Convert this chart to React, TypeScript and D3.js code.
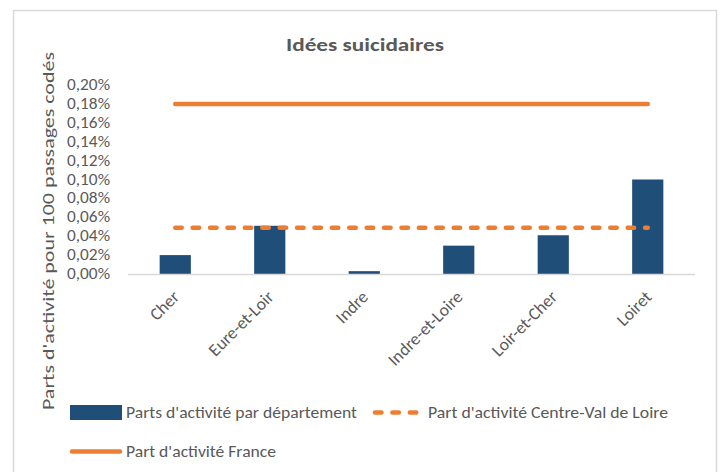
import React from "react";
import * as d3 from "d3";

const categories = ["Cher", "Eure-et-Loir", "Indre", "Indre-et-Loire", "Loir-et-Cher", "Loiret"];
const deptValues = [0.02, 0.051, 0.003, 0.03, 0.041, 0.1];
const regionValues = [0.049, 0.049, 0.049, 0.049, 0.049, 0.049];
const franceValues = [0.18, 0.18, 0.18, 0.18, 0.18, 0.18];
const yTicks = [0, 0.02, 0.04, 0.06, 0.08, 0.1, 0.12, 0.14, 0.16, 0.18, 0.2];
const title = "Idées suicidaires";
const yTitle = "Parts d'activité pour 100 passages codés";
const legendLabels = [
  "Parts d'activité par département",
  "Part d'activité Centre-Val de Loire",
  "Part d'activité France",
];

const W = 721;
const H = 472;
const BLUE = "#1F4E79";
const ORANGE = "#ED7D31";
const GRAY = "#595959";
const FONT = "Carlito, Calibri, 'Liberation Sans Narrow', 'Open Sans', sans-serif";

export default function App() {
  const x = d3.scaleBand<string>().domain(categories).range([128, 695]).paddingInner(0.67).paddingOuter(0.335);
  const xc = d3.scalePoint<string>().domain(categories).range([128, 695]).padding(0.5);
  const y = d3.scaleLinear().domain([0, 0.2]).range([274, 85]);
  const line = d3
    .line<number>()
    .x((_, i) => xc(categories[i]) as number)
    .y((d) => y(d));
  const fmt = (v: number) => v.toFixed(2).replace(".", ",") + "%";

  return (
    <svg width={W} height={H} style={{ position: "absolute", left: 0, top: 0, background: "#fff" }}>
      <rect x={13.5} y={10.5} width={703} height={470} fill="#fff" stroke="#D9D9D9" strokeWidth={1.5} />
      <text x={365} y={51} textAnchor="middle" fontFamily={FONT} fontWeight="bold" fontSize={19} fill={GRAY}
        textLength={158} lengthAdjust="spacingAndGlyphs">
        {title}
      </text>
      {yTicks.map((t) => (
        <text key={t} x={110} y={y(t) + 5} textAnchor="end" fontFamily={FONT} fontSize={15.5} fill={GRAY}
          textLength={43} lengthAdjust="spacingAndGlyphs">
          {fmt(t)}
        </text>
      ))}
      <text transform={`translate(54, 231) rotate(-90)`} textAnchor="middle" fontFamily={FONT} fontSize={17} fill={GRAY}
        textLength={358} lengthAdjust="spacingAndGlyphs">
        {yTitle}
      </text>
      {categories.map((c, i) => (
        <rect key={c} x={x(c)} y={y(deptValues[i])} width={x.bandwidth()} height={y(0) - y(deptValues[i])} fill={BLUE} />
      ))}
      <line x1={128} x2={695} y1={274.5} y2={274.5} stroke="#D9D9D9" strokeWidth={1.5} />
      <path d={line(franceValues) || ""} fill="none" stroke={ORANGE} strokeWidth={4.5} strokeLinecap="round" />
      <path d={line(regionValues) || ""} fill="none" stroke={ORANGE} strokeWidth={4.5} strokeLinecap="round"
        strokeDasharray="6.5 10.9" />
      {categories.map((c) => {
        const cx = (xc(c) as number) + 5;
        return (
          <text key={c} transform={`translate(${cx}, 298) rotate(-45)`} textAnchor="end" fontFamily={FONT} fontSize={17.5} fill={GRAY}>
            {c}
          </text>
        );
      })}
      <rect x={70} y={405} width={52} height={15} fill={BLUE} />
      <text x={126} y={418} fontFamily={FONT} fontSize={15.5} fill={GRAY} textLength={231} lengthAdjust="spacingAndGlyphs">
        {legendLabels[0]}
      </text>
      <line x1={375} x2={418} y1={412.5} y2={412.5} stroke={ORANGE} strokeWidth={4.5} strokeLinecap="round" strokeDasharray="6.5 10.9" />
      <text x={428} y={418} fontFamily={FONT} fontSize={15.5} fill={GRAY} textLength={240} lengthAdjust="spacingAndGlyphs">
        {legendLabels[1]}
      </text>
      <line x1={72} x2={120} y1={451.5} y2={451.5} stroke={ORANGE} strokeWidth={4.5} strokeLinecap="round" />
      <text x={126} y={457} fontFamily={FONT} fontSize={15.5} fill={GRAY} textLength={150} lengthAdjust="spacingAndGlyphs">
        {legendLabels[2]}
      </text>
    </svg>
  );
}
